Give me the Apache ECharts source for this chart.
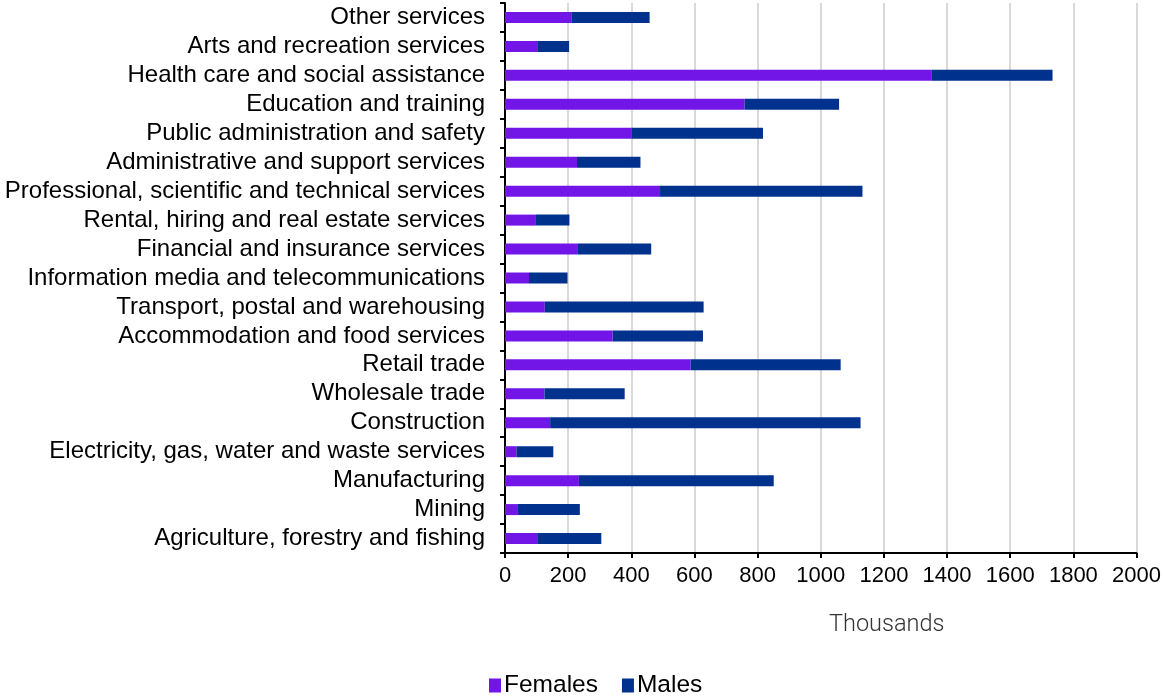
<!DOCTYPE html>
<html>
<head>
<meta charset="utf-8">
<script src="https://cdn.jsdelivr.net/npm/echarts@6/dist/echarts.min.js"></script>
<style>html,body{margin:0;padding:0;background:#fff}#c{width:1164px;height:697px}</style>
</head>
<body>
<div id="c"></div>
<script>
const categories = [
  "Agriculture, forestry and fishing",
  "Mining",
  "Manufacturing",
  "Electricity, gas, water and waste services",
  "Construction",
  "Wholesale trade",
  "Retail trade",
  "Accommodation and food services",
  "Transport, postal and warehousing",
  "Information media and telecommunications",
  "Financial and insurance services",
  "Rental, hiring and real estate services",
  "Professional, scientific and technical services",
  "Administrative and support services",
  "Public administration and safety",
  "Education and training",
  "Health care and social assistance",
  "Arts and recreation services",
  "Other services"
];
const females = [102, 41, 234, 36, 143, 125, 588, 341, 126, 76, 231, 98, 491, 228, 402, 759, 1350, 102, 210];
const males   = [203, 196, 617, 117, 983, 254, 475, 286, 503, 122, 232, 106, 641, 201, 415, 299, 384, 101, 248];
const xTicks = [0, 200, 400, 600, 800, 1000, 1200, 1400, 1600, 1800, 2000];
const seriesNames = ["Females", "Males"];
const axisTitle = "Thousands";

const chart = echarts.init(document.getElementById('c'), null, {renderer: 'canvas'});
const font = "'Liberation Sans', Arial, sans-serif";
chart.setOption({
  animation: false,
  textStyle: {fontFamily: font},
  grid: {left: 505, right: 26, top: 3, bottom: 144, containLabel: false},
  xAxis: {
    type: 'value',
    min: xTicks[0], max: xTicks[xTicks.length - 1], interval: 200,
    axisLine: {show: true, lineStyle: {color: '#000', width: 2}},
    axisTick: {show: true, length: 5, lineStyle: {color: '#000', width: 2}},
    axisLabel: {color: '#000', fontSize: 22, margin: 12, fontFamily: font,
                formatter: v => String(v)},
    splitLine: {show: true, lineStyle: {color: '#d9d9d9', width: 2}}
  },
  yAxis: {
    type: 'category',
    data: categories,
    axisLine: {show: true, lineStyle: {color: '#000', width: 2}},
    axisTick: {show: true, length: 5, lineStyle: {color: '#000', width: 2}},
    axisLabel: {color: '#000', fontSize: 24, margin: 20, fontFamily: font, interval: 0},
    splitLine: {show: false}
  },
  legend: {
    data: seriesNames,
    top: 673, left: 489, padding: 0,
    itemWidth: 12, itemHeight: 14, itemGap: 24,
    icon: 'rect',
    textStyle: {color: '#000', fontSize: 24.5, fontFamily: font, padding: [0, 0, 0, -2]}
  },
  graphic: [{
    type: 'text', left: 829, top: 613,
    style: {text: axisTitle, fontSize: 23.5, fill: '#333', fontFamily: 'Roboto', fontWeight: 300}
  }],
  series: [
    {name: seriesNames[0], type: 'bar', stack: 'a', data: females, barWidth: 11,
     itemStyle: {color: '#7216e8'}},
    {name: seriesNames[1], type: 'bar', stack: 'a', data: males, barWidth: 11,
     itemStyle: {color: '#00318c'}}
  ]
});
</script>
</body>
</html>
